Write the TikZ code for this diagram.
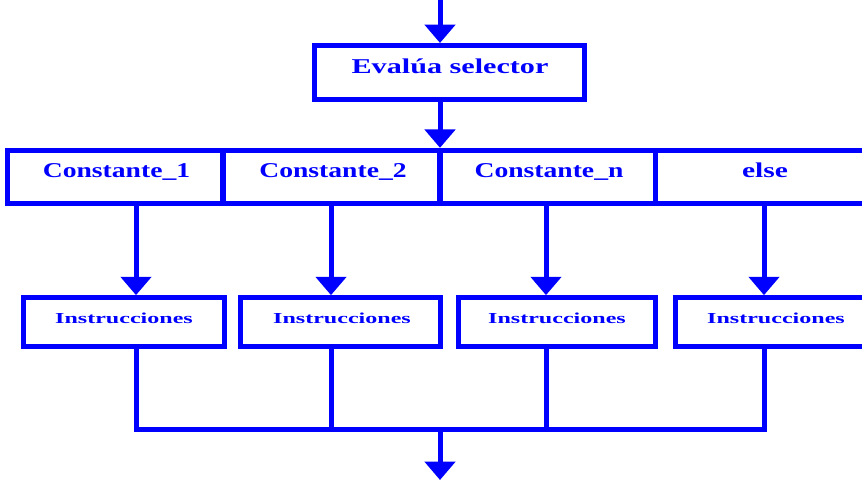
\documentclass[tikz,border=0pt]{standalone}
\usepackage{fontspec}
\setmainfont{Liberation Serif}
\usetikzlibrary{arrows.meta}

\newcommand{\ancho}[2]{\scalebox{#1}[1]{#2}}

\begin{document}
\begin{tikzpicture}[x=0.03cm,y=-0.03cm,
        line width=0.15cm, draw=blue,
        caja/.style={draw=blue, rectangle, inner sep=0pt},
        grande/.style={text=blue, anchor=base, font=\fontsize{18}{20}\selectfont\bfseries},
        chico/.style={text=blue, anchor=base, font=\fontsize{13}{15}\selectfont\bfseries},
        flecha/.style={-{Triangle[width=0.9cm,length=0.55cm]}}]
    \useasboundingbox (0,0) rectangle (862,480);

    % entry and exit points
    \coordinate (entrada) at (440,0);
    \coordinate (salida) at (440,480);
    \coordinate (d1) at (136,429);
    \coordinate (d2) at (331,429);
    \coordinate (d3) at (546,429);
    \coordinate (d4) at (764,429);

    % draws boxes
    \node[caja, minimum width=8.1cm, minimum height=1.62cm] (eval) at (449.5,72.5) {};

    \node[caja, minimum width=6.45cm, minimum height=1.6cm] (c1) at (115.5,177) {};
    \node[caja, minimum width=6.51cm, minimum height=1.6cm] (c2) at (331.5,177) {};
    \node[caja, minimum width=6.45cm, minimum height=1.6cm] (c3) at (547.5,177) {};
    \node[caja, minimum width=6.6cm, minimum height=1.6cm] (c4) at (765,177) {};

    \node[caja, minimum width=6cm, minimum height=1.46cm] (i1) at (124,322) {};
    \node[caja, minimum width=5.97cm, minimum height=1.46cm] (i2) at (340.5,322) {};
    \node[caja, minimum width=5.91cm, minimum height=1.46cm] (i3) at (556.5,322) {};
    \node[caja, minimum width=6.3cm, minimum height=1.46cm] (i4) at (780,322) {};

    % labels boxes
    \node[grande] (evalt) at (450,74) {\ancho{1.43}{Evalúa selector}};
    \node[grande] (c1t) at (116.5,178) {\ancho{1.31}{Constante\_1}};
    \node[grande] (c2t) at (333,178) {\ancho{1.31}{Constante\_2}};
    \node[grande] (c3t) at (549,178) {\ancho{1.31}{Constante\_n}};
    \node[grande] (c4t) at (765,178) {\ancho{1.4}{else}};
    \node[chico] (i1t) at (124,323) {\ancho{1.58}{Instrucciones}};
    \node[chico] (i2t) at (342,323) {\ancho{1.58}{Instrucciones}};
    \node[chico] (i3t) at (557,323) {\ancho{1.58}{Instrucciones}};
    \node[chico] (i4t) at (776,323) {\ancho{1.58}{Instrucciones}};

    % draws arrows
    \draw[flecha] (entrada) -- (eval.north -| entrada);
    \draw[flecha] (eval.south -| entrada) -- (c3.north -| entrada);
    \draw[flecha] (c1.south -| d1) -- (i1.north -| d1);
    \draw[flecha] (c2.south -| d2) -- (i2.north -| d2);
    \draw[flecha] (c3.south -| d3) -- (i3.north -| d3);
    \draw[flecha] (c4.south -| d4) -- (i4.north -| d4);

    % joins the branches
    \draw (i1.south -| d1) -- (d1) -- (d4) -- (i4.south -| d4);
    \draw (i2.south -| d2) -- (d2);
    \draw (i3.south -| d3) -- (d3);
    \draw[flecha] (d1 -| salida) -- (salida);
\end{tikzpicture}
\end{document}
